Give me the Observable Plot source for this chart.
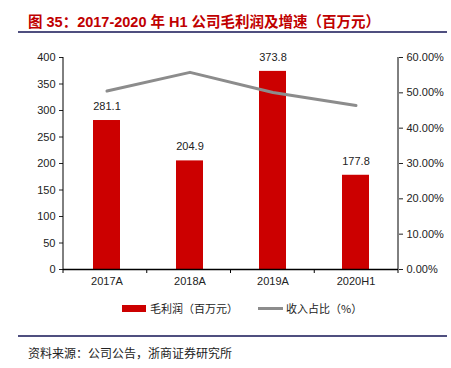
<!DOCTYPE html>
<html><head><meta charset="utf-8">
<script src="https://cdn.jsdelivr.net/npm/d3@7"></script>
<script src="https://cdn.jsdelivr.net/npm/@observablehq/plot@0.6"></script>
<style>
body{margin:0;background:#fff;width:451px;height:368px;position:relative;overflow:hidden;font-family:"Liberation Sans",Arial,sans-serif;}
#title{position:absolute;left:28px;top:10px;font-size:14.5px;font-weight:bold;color:#c00000;font-family:"Liberation Sans","Noto Sans CJK SC",sans-serif;white-space:nowrap;}
.hr{position:absolute;left:18px;width:429px;height:2px;background:#4f4f7f;}
#chart{position:absolute;left:0;top:40px;}
#legend{position:absolute;top:300px;left:0;width:451px;font-size:11px;color:#222;font-family:"Noto Sans CJK SC",sans-serif;}
#legend .sw{position:absolute;}
#legend .tx{position:absolute;top:0;white-space:nowrap;}
#src{position:absolute;left:28px;top:344px;font-size:12px;color:#222;font-family:"Noto Sans CJK SC",sans-serif;white-space:nowrap;}
</style></head>
<body>
<div id="title">图 35：2017-2020 年 H1 公司毛利润及增速（百万元）</div>
<div class="hr" style="top:31px"></div>
<div id="chart"></div>
<div id="legend">
  <div class="sw" style="left:122px;top:5px;width:24px;height:7px;background:#cc0000"></div>
  <div class="tx" style="left:150px">毛利润（百万元）</div>
  <div class="sw" style="left:258px;top:7px;width:25px;height:3px;background:#8c8c8c"></div>
  <div class="tx" style="left:286px">收入占比（%）</div>
</div>
<div class="hr" style="top:335px"></div>
<div id="src">资料来源：公司公告，浙商证券研究所</div>
<script>
const categories = ["2017A", "2018A", "2019A", "2020H1"];
const grossProfit = [281.1, 204.9, 373.8, 177.8];
const revenueShare = [50.5, 55.8, 50.1, 46.4];
const leftTicks = [0, 50, 100, 150, 200, 250, 300, 350, 400];
const rightTicks = [0, 10, 20, 30, 40, 50, 60];

const k = 400 / 60;
const data = categories.map((c, i) => ({cat: c, gp: grossProfit[i], share: revenueShare[i], shareY: revenueShare[i] * k}));

const fig = Plot.plot({
  width: 451, height: 255,
  marginLeft: 63, marginRight: 53, marginTop: 17, marginBottom: 26,
  style: {fontFamily: "Liberation Sans, Arial, sans-serif", fontSize: "11px", color: "#222", background: "#fff"},
  x: {type: "band", domain: categories, padding: 0, label: null},
  y: {domain: [0, 400], label: null},
  marks: [
    Plot.barY(data, {x: "cat", y: "gp", fill: "#cc0000", insetLeft: 28, insetRight: 28}),
    Plot.text(data, {x: "cat", y: "gp", text: d => d.gp.toFixed(1), dy: -14, fontSize: 11, fill: "#222"}),
    Plot.line(data, {x: "cat", y: "shareY", stroke: "#8c8c8c", strokeWidth: 3, curve: "linear"}),
    Plot.axisY(leftTicks, {anchor: "left", tickSize: 4, tickPadding: 4, fontSize: 11, label: null}),
    Plot.axisY(rightTicks.map(v => v * k), {anchor: "right", tickSize: 4, tickPadding: 4, fontSize: 11, label: null, tickFormat: d => (Math.round(d / k * 100) / 100).toFixed(2) + "%"}),
    Plot.axisX({tickSize: 0, tickPadding: 8, fontSize: 11, label: null}),
    Plot.ruleY([0], {stroke: "#000", strokeWidth: 1.5})
  ]
});
document.getElementById("chart").appendChild(fig);

// axis lines and x boundary ticks from the scales
const svg = d3.select(fig);
const y0 = 255 - 26, y1 = 17;
const x0 = 63, x1 = 451 - 53;
const g = svg.append("g").attr("stroke", "#000").attr("stroke-width", 1);
g.append("line").attr("x1", x0).attr("x2", x0).attr("y1", y0).attr("y2", y1);
g.append("line").attr("x1", x1).attr("x2", x1).attr("y1", y0).attr("y2", y1);
const bw = (x1 - x0) / categories.length;
for (let i = 0; i <= categories.length; i++) {
  const x = x0 + i * bw;
  g.append("line").attr("x1", x).attr("x2", x).attr("y1", y0).attr("y2", y0 + 4);
}
</script>
</body></html>
